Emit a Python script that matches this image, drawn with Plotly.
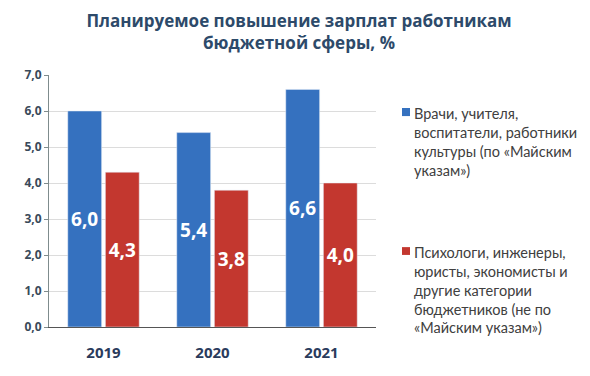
import plotly.graph_objects as go

years = ["2019", "2020", "2021"]
doctors = [6.0, 5.4, 6.6]
others = [4.3, 3.8, 4.0]
name_doctors = "Врачи, учителя,<br>воспитатели, работники<br>культуры (по «Майским<br>указам»)"
name_others = "Психологи, инженеры,<br>юристы, экономисты и<br>другие категории<br>бюджетников (не по<br>«Майским указам»)"
yticks = [0, 1, 2, 3, 4, 5, 6, 7]

def fmt(v):
    return f"{v:.1f}".replace(".", ",")

W, H = 582, 368
BLUE, RED = "#3571bf", "#c3372f"

fig = go.Figure()
fig.add_trace(go.Bar(
    x=years, y=doctors, name=name_doctors,
    marker=dict(color=BLUE),
    text=[fmt(v) for v in doctors], textposition="inside",
    insidetextanchor="middle", textangle=0,
    textfont=dict(color="white", size=19, family="Open Sans", weight="bold"),
))
fig.add_trace(go.Bar(
    x=years, y=others, name=name_others,
    marker=dict(color=RED),
    text=[fmt(v) for v in others], textposition="inside",
    insidetextanchor="middle", textangle=0,
    textfont=dict(color="white", size=19, family="Open Sans", weight="bold"),
))

legend_font = dict(family="Lato", size=14.5, color="#404040")
# custom legend (marker squares + text) placed right of the plot
legend_items = [
    (name_doctors, BLUE, 0.869, 0.837, 0.734),
    (name_others, RED, 0.317, 0.286, 0.147),
]
for text, color, y0, y1, ytext in legend_items:
    fig.add_shape(type="rect", xref="paper", yref="paper",
                  x0=1.0795, x1=1.104, y0=y1, y1=y0,
                  fillcolor=color, line=dict(width=0))
    fig.add_annotation(text=text, xref="paper", yref="paper",
                       x=1.111, y=ytext, xanchor="left", yanchor="middle",
                       align="left", showarrow=False, font=legend_font)

fig.update_layout(
    width=W, height=H,
    margin=dict(l=41, r=214, t=67, b=49),
    paper_bgcolor="white", plot_bgcolor="white",
    separators=", ",
    barmode="group", bargap=0.31, bargroupgap=0.1,
    showlegend=False,
    title=dict(
        text="Планируемое повышение зарплат работникам<br>бюджетной сферы, %",
        x=0.5, xanchor="center", yref="container", y=0.948, yanchor="top",
        font=dict(family="Open Sans", size=17, color="#2d4a6a", weight="bold"),
    ),
    xaxis=dict(
        showline=True, linecolor="#555555", linewidth=1,
        tickfont=dict(family="Open Sans", size=15, color="#2a3b5c", weight="bold"),
        ticks="", ticklabelstandoff=12,
    ),
    yaxis=dict(
        range=[0, 7], tickvals=yticks,
        ticktext=[fmt(v) for v in yticks],
        showgrid=True, gridcolor="#dcdcdc", gridwidth=1,
        showline=True, linecolor="#7f8c8d", linewidth=1,
        ticks="outside", ticklen=4, tickcolor="#7f8c8d",
        tickfont=dict(family="Open Sans", size=12, color="#3a4a5a", weight="bold"),
        zeroline=False,
    ),
)

fig.write_html("out.html")
